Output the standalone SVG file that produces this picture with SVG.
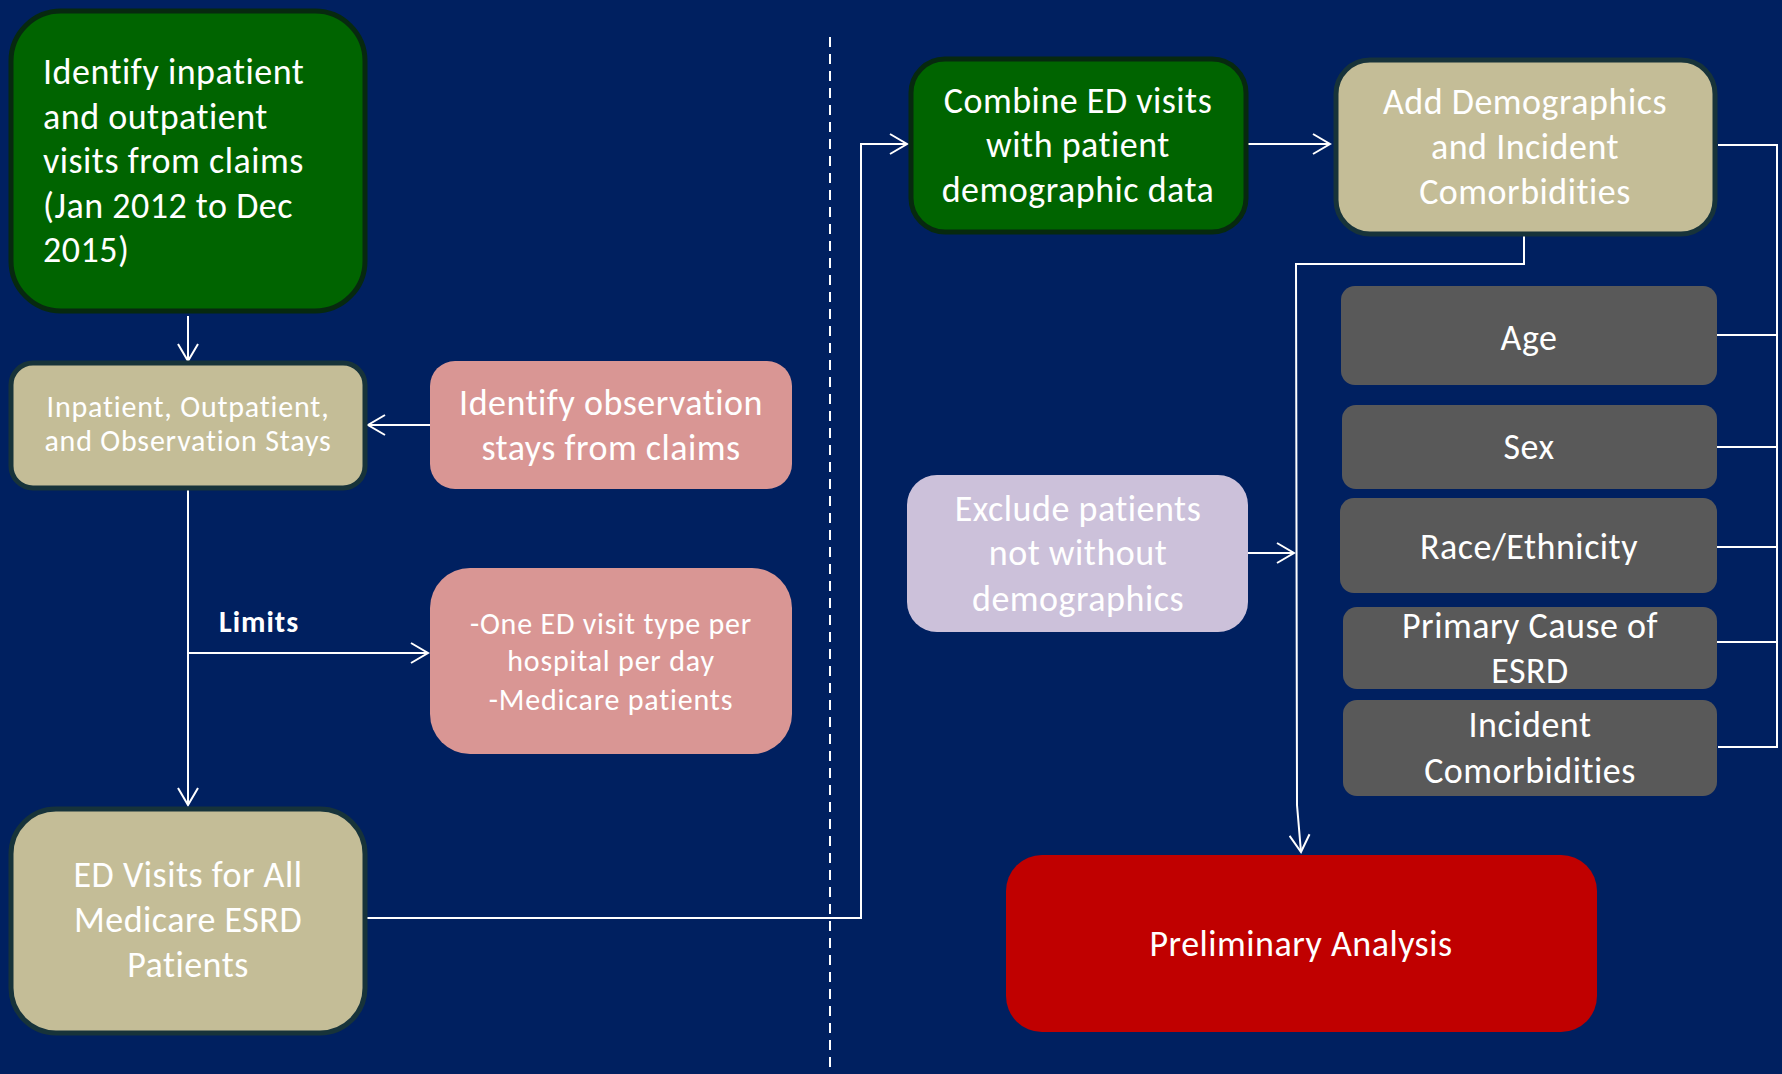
<svg xmlns="http://www.w3.org/2000/svg" width="1782" height="1074" viewBox="0 0 1782 1074">
<defs>
<style>
.t{fill:#ffffff;font-family:Carlito,Lato,"Liberation Sans",sans-serif;text-anchor:middle}
.b34{font-size:36px;letter-spacing:0.5px}
.b28{font-size:30px;letter-spacing:0.8px}
.l{text-anchor:start}
.bold{font-weight:bold;letter-spacing:1px}
.c{fill:none;stroke:#ffffff;stroke-width:2}
.green{fill:#006400;stroke:#07290f;stroke-width:5}
.khaki{fill:#c4bd97;stroke:#17333a;stroke-width:5}
.pink{fill:#d99694}
.lav{fill:#ccc1da}
.grey{fill:#595959}
.red{fill:#c00000}
</style>
<marker id="arr" viewBox="0 0 20 22" refX="18" refY="11" markerWidth="20" markerHeight="22" markerUnits="userSpaceOnUse" orient="auto">
<path d="M1,1 L18,11 L1,21" fill="none" stroke="#ffffff" stroke-width="2"/>
</marker>
</defs>
<rect width="1782" height="1074" fill="#002060"/>
<line x1="830" y1="37" x2="830" y2="1074" stroke="#ffffff" stroke-width="2" stroke-dasharray="10,7"/>

<g id="connectors">
<line class="c" x1="188" y1="316" x2="188" y2="361" marker-end="url(#arr)" stroke-width="1.5"/>
<line class="c" x1="430" y1="425" x2="368" y2="425" marker-end="url(#arr)"/>
<line class="c" x1="188" y1="489" x2="188" y2="805" marker-end="url(#arr)" stroke-width="1.5"/>
<line class="c" x1="188" y1="653" x2="428" y2="653" marker-end="url(#arr)"/>
<polyline class="c" points="366,918 861,918 861,144 907,144" marker-end="url(#arr)"/>
<line class="c" x1="1247" y1="144" x2="1330" y2="144" marker-end="url(#arr)"/>
<polyline class="c" points="1524,235 1524,264 1296,264 1297,805 1301,852" marker-end="url(#arr)"/>
<line class="c" x1="1248" y1="553" x2="1294" y2="553" marker-end="url(#arr)"/>
<polyline class="c" points="1718,145 1777,145 1777,747 1718,747"/>
<line class="c" x1="1717" y1="335" x2="1777" y2="335"/>
<line class="c" x1="1717" y1="447" x2="1777" y2="447"/>
<line class="c" x1="1717" y1="547" x2="1777" y2="547"/>
<line class="c" x1="1717" y1="642" x2="1777" y2="642"/>
</g>

<g id="n1">
<rect class="green" x="11" y="11" width="354" height="300" rx="50"/>
<text class="t b34 l" x="43"><tspan x="43" y="84">Identify inpatient</tspan><tspan x="43" y="129">and outpatient</tspan><tspan x="43" y="173">visits from claims</tspan><tspan x="43" y="218">(Jan 2012 to Dec</tspan><tspan x="43" y="262">2015)</tspan></text>
</g>

<g id="n2">
<rect class="khaki" x="11" y="363" width="354" height="125" rx="22"/>
<text class="t b28"><tspan x="188" y="417">Inpatient, Outpatient,</tspan><tspan x="188" y="451">and Observation Stays</tspan></text>
</g>

<g id="n3">
<rect class="pink" x="430" y="361" width="362" height="128" rx="25"/>
<text class="t b34"><tspan x="611" y="415">Identify observation</tspan><tspan x="611" y="460">stays from claims</tspan></text>
</g>

<g id="limits">
<text class="t b28 l bold" x="219" y="632">Limits</text>
</g>

<g id="n4">
<rect class="pink" x="430" y="568" width="362" height="186" rx="40"/>
<text class="t b28"><tspan x="611" y="634">-One ED visit type per</tspan><tspan x="611" y="671">hospital per day</tspan><tspan x="611" y="710">-Medicare patients</tspan></text>
</g>

<g id="n5">
<rect class="khaki" x="11" y="809" width="354" height="224" rx="45"/>
<text class="t b34"><tspan x="188" y="887">ED Visits for All</tspan><tspan x="188" y="932">Medicare ESRD</tspan><tspan x="188" y="977">Patients</tspan></text>
</g>

<g id="n6">
<rect class="green" x="911" y="59" width="335" height="173" rx="34"/>
<text class="t b34"><tspan x="1078" y="113">Combine ED visits</tspan><tspan x="1078" y="157">with patient</tspan><tspan x="1078" y="202">demographic data</tspan></text>
</g>

<g id="n7">
<rect class="khaki" x="1336" y="60" width="379" height="174" rx="34"/>
<text class="t b34"><tspan x="1525" y="114">Add Demographics</tspan><tspan x="1525" y="159">and Incident</tspan><tspan x="1525" y="204">Comorbidities</tspan></text>
</g>

<g id="n8">
<rect class="lav" x="907" y="475" width="341" height="157" rx="30"/>
<text class="t b34"><tspan x="1078" y="521">Exclude patients</tspan><tspan x="1078" y="565">not without</tspan><tspan x="1078" y="611">demographics</tspan></text>
</g>

<g id="n9">
<rect class="grey" x="1341" y="286" width="376" height="99" rx="14"/>
<text class="t b34" x="1529" y="350">Age</text>
</g>

<g id="n10">
<rect class="grey" x="1342" y="405" width="375" height="84" rx="14"/>
<text class="t b34" x="1529" y="459">Sex</text>
</g>

<g id="n11">
<rect class="grey" x="1340" y="498" width="377" height="95" rx="14"/>
<text class="t b34" x="1529" y="559">Race/Ethnicity</text>
</g>

<g id="n12">
<rect class="grey" x="1343" y="607" width="374" height="82" rx="14"/>
<text class="t b34"><tspan x="1530" y="638">Primary Cause of</tspan><tspan x="1530" y="683">ESRD</tspan></text>
</g>

<g id="n13">
<rect class="grey" x="1343" y="700" width="374" height="96" rx="14"/>
<text class="t b34"><tspan x="1530" y="737">Incident</tspan><tspan x="1530" y="783">Comorbidities</tspan></text>
</g>

<g id="n14">
<rect class="red" x="1006" y="855" width="591" height="177" rx="36"/>
<text class="t b34" x="1301" y="956">Preliminary Analysis</text>
</g>
</svg>
